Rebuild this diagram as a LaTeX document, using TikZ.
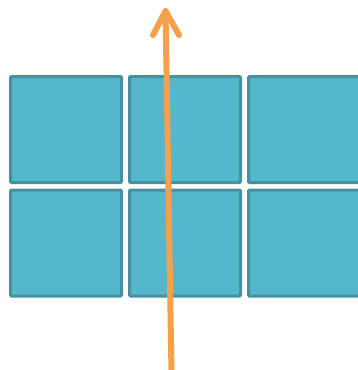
\documentclass[tikz,border=0pt]{standalone}
\usetikzlibrary{calc}
\definecolor{cellfill}{RGB}{85,183,204}
\definecolor{celldraw}{RGB}{70,144,160}
\definecolor{arroworange}{RGB}{246,160,77}
\tikzset{
  cell/.style={draw=celldraw, fill=cellfill, line width=3pt, inner sep=0pt,
    minimum width=111pt, minimum height=106pt, rounded corners=1pt},
  ray/.style={draw=arroworange, line width=6pt, line cap=round, line join=round}
}
\begin{document}
\begin{tikzpicture}[x=1pt,y=-1pt]
\useasboundingbox (0,0) rectangle (358,370);
\clip (0,0) rectangle (358,370);
\node[cell] (c11) at (66,129.5) {};
\node[cell] (c12) at (185,129.5) {};
\node[cell] (c13) at (304,129.5) {};
\node[cell] (c21) at (66,243) {};
\node[cell] (c22) at (185,243) {};
\node[cell] (c23) at (304,243) {};
\coordinate (start) at (171.5,373);
\coordinate (tip) at (165.5,11);
\coordinate (wl) at (153,35);
\coordinate (wr) at (179,35);
\draw[ray] (start) -- (tip);
\draw[ray] (wl) -- (tip) -- (wr);
\end{tikzpicture}
\end{document}
